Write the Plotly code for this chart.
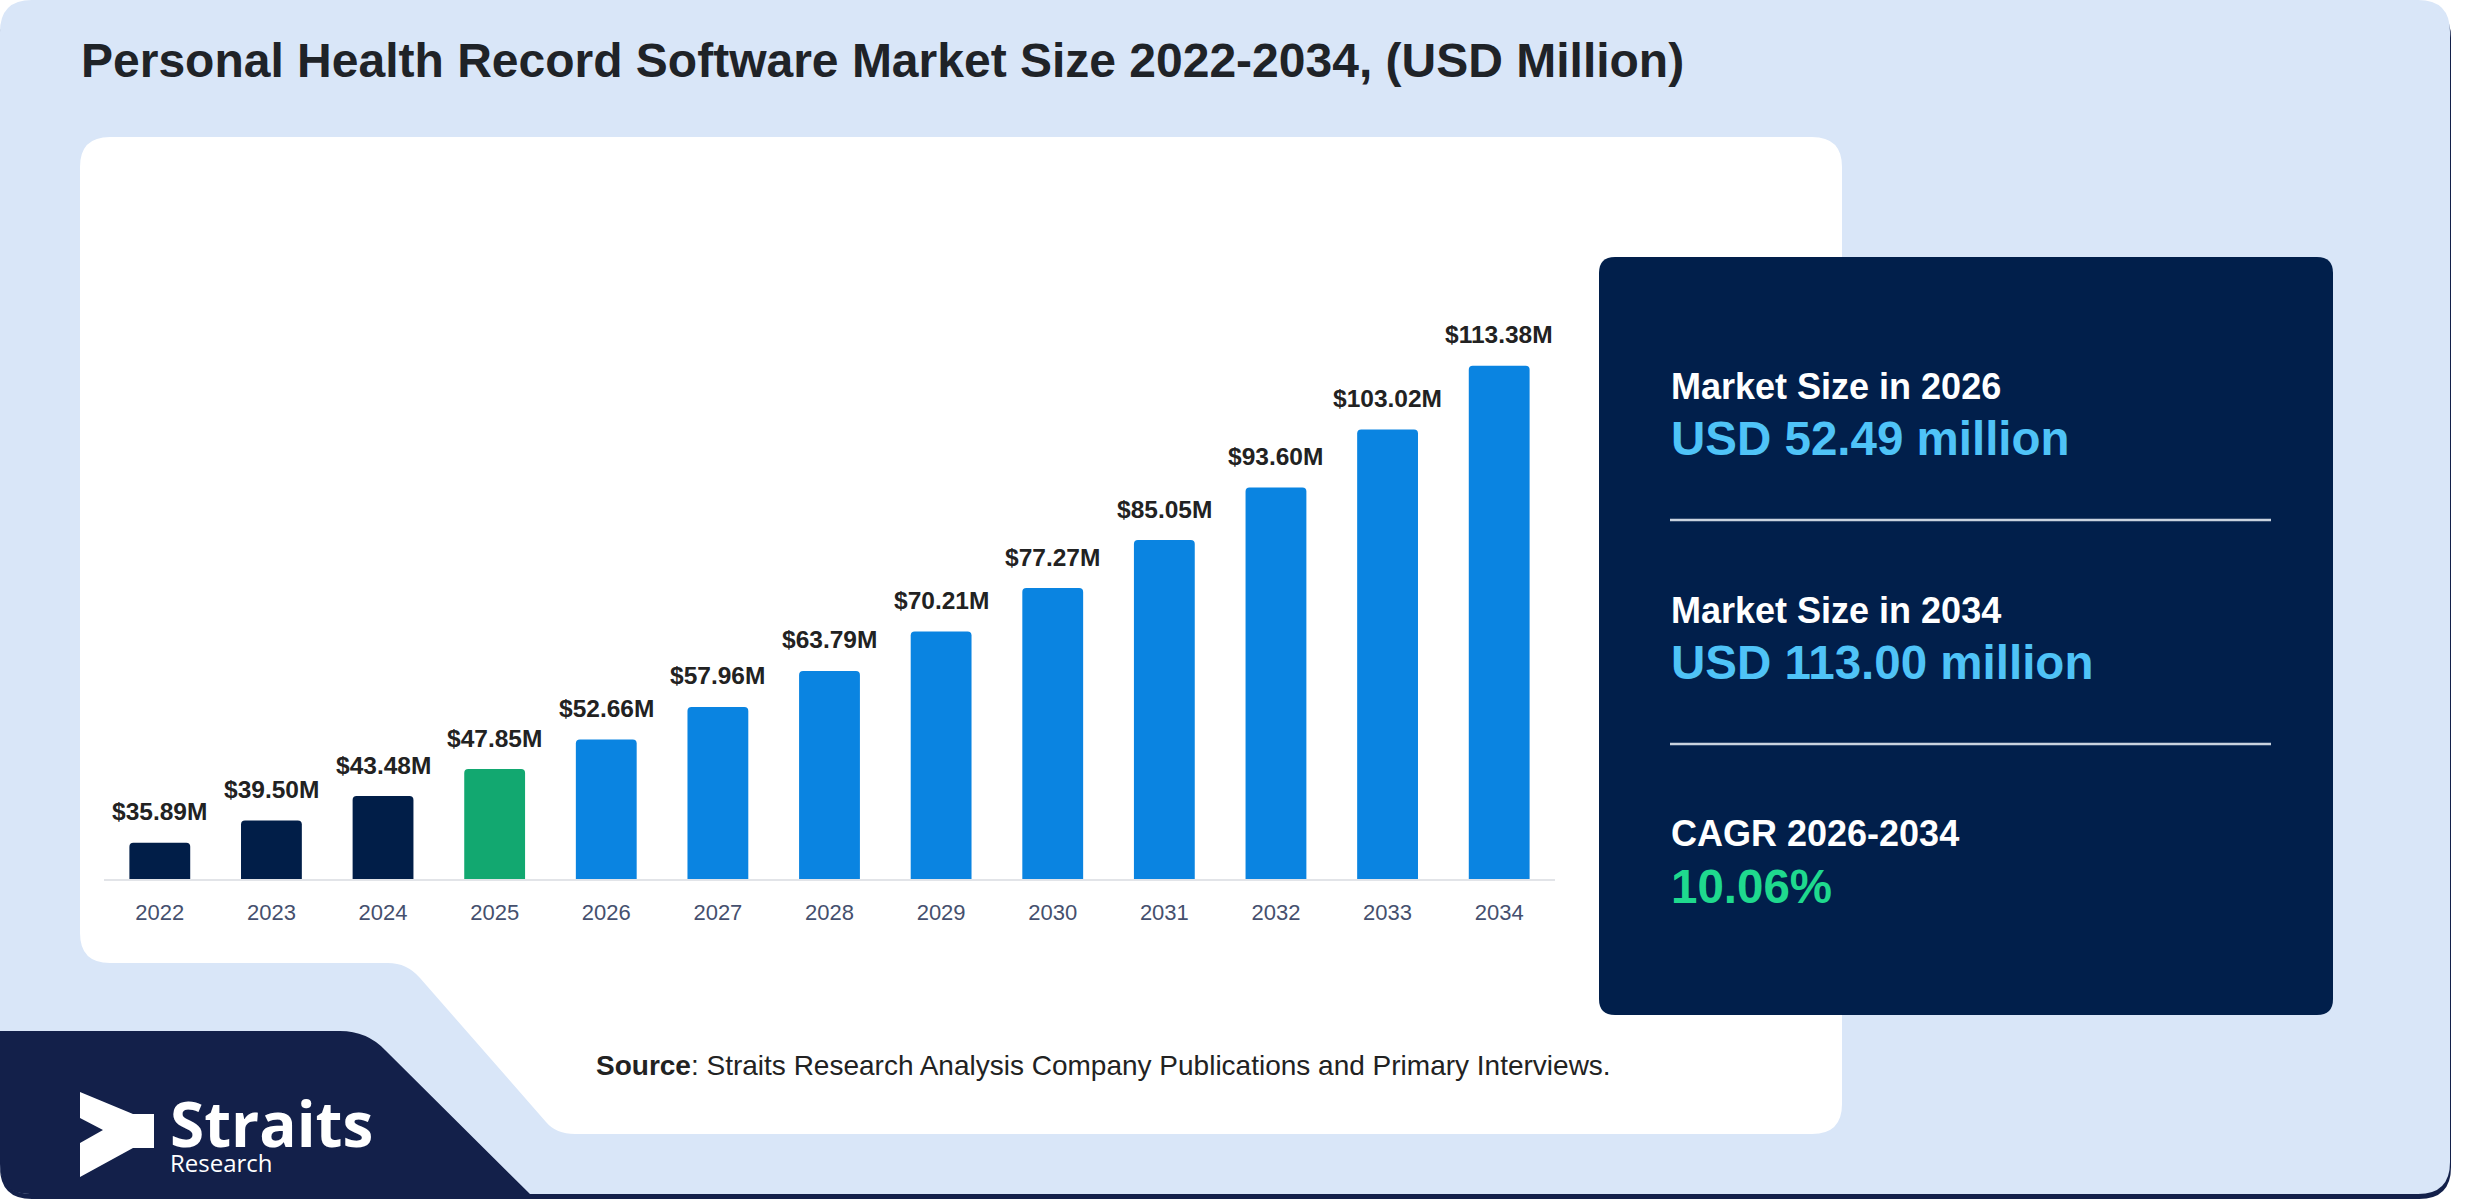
import plotly.graph_objects as go

# ---------------- data ----------------
years = ["2022", "2023", "2024", "2025", "2026", "2027", "2028",
         "2029", "2030", "2031", "2032", "2033", "2034"]
values = [35.89, 39.50, 43.48, 47.85, 52.66, 57.96, 63.79,
          70.21, 77.27, 85.05, 93.60, 103.02, 113.38]
labels = ["$35.89M", "$39.50M", "$43.48M", "$47.85M", "$52.66M", "$57.96M",
          "$63.79M", "$70.21M", "$77.27M", "$85.05M", "$93.60M", "$103.02M",
          "$113.38M"]

title_text = "Personal Health Record Software Market Size 2022-2034, (USD Million)"
panel_heads = ["Market Size in 2026", "Market Size in 2034", "CAGR 2026-2034"]
panel_vals = ["USD 52.49 million", "USD 113.00 million", "10.06%"]
source_text = "<b>Source</b>: Straits Research Analysis Company Publications and Primary Interviews."

# ---------------- styling ----------------
W, H = 2480, 1200
FONT = "Liberation Sans, Arial, sans-serif"
LOGO_FONT = "Open Sans, Noto Sans, sans-serif"
NAVY = "#011E48"
GREEN = "#12A870"
BLUE = "#0A84E1"
PANEL = "#011F4B"
LOGO_NAVY = "#13204A"
LIGHT = "#D9E6F8"


def X(px):
    return px / W


def Y(py):
    return 1 - py / H


def rrect(x0, y0, x1, y1, r):
    return (f"M {X(x0 + r)} {Y(y0)} L {X(x1 - r)} {Y(y0)} Q {X(x1)} {Y(y0)} {X(x1)} {Y(y0 + r)} "
            f"L {X(x1)} {Y(y1 - r)} Q {X(x1)} {Y(y1)} {X(x1 - r)} {Y(y1)} "
            f"L {X(x0 + r)} {Y(y1)} Q {X(x0)} {Y(y1)} {X(x0)} {Y(y1 - r)} "
            f"L {X(x0)} {Y(y0 + r)} Q {X(x0)} {Y(y0)} {X(x0 + r)} {Y(y0)} Z")


def poly(pts, closed=True):
    s = "M " + " L ".join(f"{X(a)} {Y(b)}" for a, b in pts)
    return s + (" Z" if closed else "")


def path(cmds):
    out = []
    for c in cmds:
        if c[0] in ("M", "L"):
            out.append(f"{c[0]} {X(c[1])} {Y(c[2])}")
        elif c[0] == "Q":
            out.append(f"Q {X(c[1])} {Y(c[2])} {X(c[3])} {Y(c[4])}")
        elif c[0] == "Z":
            out.append("Z")
    return " ".join(out)


bar_colors = []
for y in years:
    yi = int(y)
    bar_colors.append(NAVY if yi < 2025 else (GREEN if yi == 2025 else BLUE))

fig = go.Figure()
fig.add_trace(go.Bar(
    x=years, y=values,
    marker=dict(color=bar_colors, line=dict(width=0), cornerradius=4),
    hoverinfo="skip", showlegend=False,
))

shapes = []
# shadow strip under outer card
shapes.append(dict(type="path", xref="paper", yref="paper", layer="below",
                   path=rrect(0, 6, 2451, 1199, 32), fillcolor=LOGO_NAVY, line=dict(width=0)))
# outer light card
shapes.append(dict(type="path", xref="paper", yref="paper", layer="below",
                   path=rrect(0, 0, 2450, 1194, 32), fillcolor=LIGHT, line=dict(width=0)))
# white chart card with cut-out bottom-left
white = path([
    ("M", 110, 137), ("L", 1812, 137), ("Q", 1842, 137, 1842, 167),
    ("L", 1842, 1104), ("Q", 1842, 1134, 1812, 1134),
    ("L", 575, 1134), ("Q", 556, 1134, 546, 1122),
    ("L", 420, 978), ("Q", 407, 963, 388, 963),
    ("L", 110, 963), ("Q", 80, 963, 80, 933),
    ("L", 80, 167), ("Q", 80, 137, 110, 137), ("Z",),
])
shapes.append(dict(type="path", xref="paper", yref="paper", layer="below",
                   path=white, fillcolor="white", line=dict(width=0)))
# navy logo block bottom-left
navy = path([
    ("M", 0, 1031), ("L", 340, 1031), ("Q", 367, 1031, 385, 1050),
    ("L", 530, 1194), ("L", 30, 1194), ("Q", 0, 1194, 0, 1164), ("Z",),
])
shapes.append(dict(type="path", xref="paper", yref="paper", layer="below",
                   path=navy, fillcolor=LOGO_NAVY, line=dict(width=0)))
# dark info panel
shapes.append(dict(type="path", xref="paper", yref="paper", layer="below",
                   path=rrect(1599, 257, 2333, 1015, 16), fillcolor=PANEL, line=dict(width=0)))
# separators
for ly in (520, 744):
    shapes.append(dict(type="line", xref="paper", yref="paper",
                       x0=X(1670), x1=X(2271), y0=Y(ly), y1=Y(ly),
                       line=dict(color="#C9D2DE", width=2.5)))
# logo arrow
arrow = poly([(80, 1092), (133, 1114), (154, 1114), (154, 1148), (133, 1148),
              (80, 1177), (80, 1143), (103, 1130), (80, 1118)])
shapes.append(dict(type="path", xref="paper", yref="paper",
                   path=arrow, fillcolor="white", line=dict(width=0)))

ann = []
# bar value labels (x given as category index so numeric-looking names are not misread)
for i, (v, t) in enumerate(zip(values, labels)):
    ann.append(dict(x=i, y=v, xref="x", yref="y", text=f"<b>{t}</b>", showarrow=False,
                    yanchor="middle", xanchor="center", yshift=31,
                    font=dict(family=FONT, size=24.5, color="#222222")))
# title
ann.append(dict(x=X(79), y=Y(61), xref="paper", yref="paper", text=f"<b>{title_text}</b>",
                showarrow=False, xanchor="left", yanchor="middle",
                font=dict(family=FONT, size=48, color="#1F2328")))
# panel texts
head_y = [386, 610, 833]
val_y = [438, 662, 886]
val_colors = ["#4FC3F7", "#4FC3F7", "#1FD98E"]
for h, hy, v, vy, vc in zip(panel_heads, head_y, panel_vals, val_y, val_colors):
    ann.append(dict(x=X(1669), y=Y(hy), xref="paper", yref="paper", text=f"<b>{h}</b>",
                    showarrow=False, xanchor="left", yanchor="middle",
                    font=dict(family=FONT, size=36, color="white")))
    ann.append(dict(x=X(1669), y=Y(vy), xref="paper", yref="paper", text=f"<b>{v}</b>",
                    showarrow=False, xanchor="left", yanchor="middle",
                    font=dict(family=FONT, size=47.5, color=vc)))
# source
ann.append(dict(x=X(594), y=Y(1065), xref="paper", yref="paper", text=source_text,
                showarrow=False, xanchor="left", yanchor="middle",
                font=dict(family=FONT, size=28, color="#222222")))
# logo text (one block, two lines)
ann.append(dict(x=X(168), y=Y(1130), xref="paper", yref="paper",
                text="<span style='font-size:62px'><b>Straits</b></span><br>"
                     "<span style='font-size:24px'>Research</span>",
                showarrow=False, xanchor="left", yanchor="middle", align="left",
                font=dict(family=LOGO_FONT, size=19, color="white")))

fig.update_layout(
    width=W, height=H, autosize=False,
    margin=dict(l=0, r=0, t=0, b=0, pad=0),
    paper_bgcolor="white", plot_bgcolor="rgba(0,0,0,0)",
    bargap=0.455,
    shapes=shapes, annotations=ann,
    xaxis=dict(domain=[X(104), X(1555)], type="category", range=[-0.5, 12.5],
               showline=True, linecolor="#E2E4E8", linewidth=2,
               showgrid=False, zeroline=False,
               ticks="outside", ticklen=13, tickcolor="rgba(0,0,0,0)",
               tickfont=dict(family=FONT, size=22, color="#45506E"), fixedrange=True),
    yaxis=dict(domain=[Y(879), Y(200)], range=[30, 140.3], visible=False,
               showgrid=False, zeroline=False, fixedrange=True),
    hovermode=False,
)

fig.write_html("out.html", config={"displayModeBar": False},
               post_script="document.body.style.margin='0';document.body.style.padding='0';")
